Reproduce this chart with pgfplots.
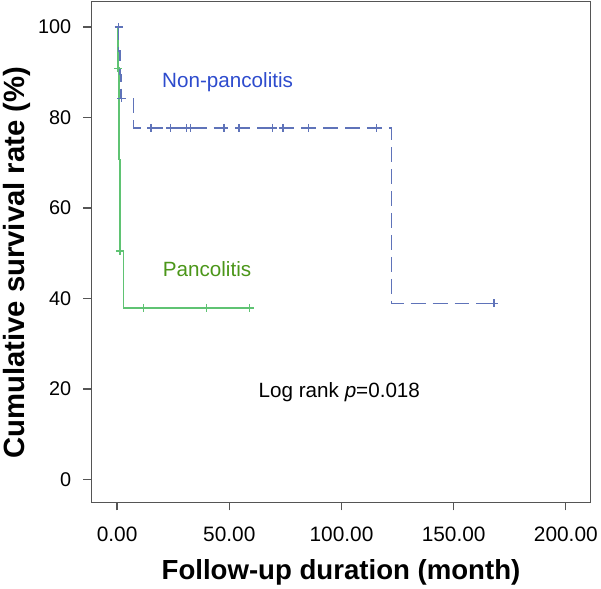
\documentclass[border=0pt]{standalone}
\usepackage{fontspec}
\setmainfont{Liberation Sans}
\usepackage{pgfplots}
\pgfplotsset{compat=1.18}
\definecolor{nonline}{RGB}{95,115,185}
\definecolor{panline}{RGB}{95,195,115}
\definecolor{nontext}{RGB}{45,75,205}
\definecolor{pantext}{RGB}{75,150,25}
\definecolor{axisgray}{RGB}{85,85,85}

\begin{document}
\begin{tikzpicture}
\begin{axis}[
 scale only axis,width=501.3bp,height=502.6bp,
 xmin=-11.55,xmax=211.1,ymin=-5.1,ymax=105.6,
 xtick={0,50,100,150,200},ytick={0,20,40,60,80,100},
 xtick pos=bottom,ytick pos=left,tick align=outside,major tick length=8bp,
 /pgf/number format/assume math mode=true,
 xticklabel style={/pgf/number format/fixed,/pgf/number format/fixed zerofill,
   /pgf/number format/precision=2,font=\fontsize{21}{24}\selectfont,yshift=-13.5bp},
 yticklabel style={font=\fontsize{20}{24}\selectfont,xshift=-8.5bp},
 xlabel={Follow-up duration (month)},ylabel={Cumulative survival rate (\%)},
 xlabel style={font=\fontsize{27.8}{30}\selectfont\bfseries,
   at={(axis description cs:0.5,-0.1536)},anchor=base},
 ylabel style={font=\fontsize{29.5}{32}\selectfont\bfseries,
   at={(axis description cs:-0.1487,0.4786)},anchor=center},
 axis line style={axisgray,line width=1.3bp},
 every tick/.style={axisgray,line width=1.3bp},
 clip=false,
]
% pancolitis
\addplot[panline,line width=1.4bp] coordinates {
 (0,100) (0.3,100) (0.3,90.9) (0.8,90.9) (0.8,70.7) (1.3,70.7) (1.3,50.5)
 (2.8,50.5) (2.8,37.9) (59.1,37.9)};
\addplot[panline,only marks,mark=+,mark size=4bp,line width=1.2bp] coordinates {
 (0.3,90.9) (1.3,50.5) (11.8,37.9) (40,37.9) (59.1,37.9)};
% non-pancolitis
\addplot[nonline,line width=1.4bp,dash pattern=on 15bp off 7bp] coordinates {
 (0,100) (0.7,100) (0.7,94.7) (1.2,94.7) (1.2,89.5) (1.8,89.5) (1.8,84.2)
 (7.4,84.2) (7.4,77.7) (122.3,77.7) (122.3,38.9) (168,38.9)};
\addplot[nonline,only marks,mark=+,mark size=4bp,line width=1.2bp] coordinates {
 (0.7,100) (1.8,84.2) (15.1,77.7) (23.7,77.7) (31,77.7) (32.8,77.7)
 (47.6,77.7) (54.3,77.7) (69.4,77.7) (73.9,77.7) (85.3,77.7) (115.6,77.7)
 (168,38.9)};
\node[anchor=base west,inner sep=0,text=nontext,font=\fontsize{20.8}{24}\selectfont]
 at (axis cs:20,86.7) {Non-pancolitis};
\node[anchor=base west,inner sep=0,text=pantext,font=\fontsize{20.8}{24}\selectfont]
 at (axis cs:20.3,44.8) {Pancolitis};
\node[anchor=base west,inner sep=0,font=\fontsize{20.8}{24}\selectfont]
 at (axis cs:63,18.2) {Log rank \textit{p}=0.018};
% page margins as in the reference
\path (rel axis cs:0,0) ++(-90.7bp,-82.7bp);
\path (rel axis cs:1,1) ++(9bp,1.7bp);
\end{axis}
\end{tikzpicture}
\end{document}
